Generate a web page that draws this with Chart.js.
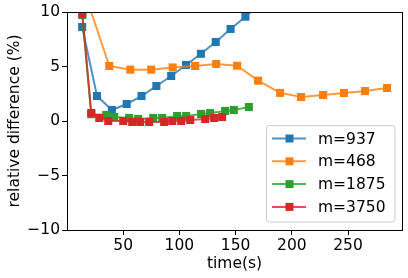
<!DOCTYPE html>
<html>
<head>
<meta charset="utf-8">
<script src="https://cdn.jsdelivr.net/npm/chart.js@4.4.1/dist/chart.umd.min.js"></script>
<style>
  html, body { margin: 0; padding: 0; background: #fff; }
  #wrap { width: 408px; height: 278px; }
</style>
</head>
<body>
<div id="wrap"><canvas id="relChart" width="408" height="278"></canvas></div>
<script>
// series (time in s, relative difference in %)
const seriesNames = ['m=937', 'm=468', 'm=1875', 'm=3750'];

const timeM937 = [13.5, 26.7, 39.9, 53.1, 66.3, 79.5, 92.7, 105.9, 119.1, 132.3, 145.5, 158.7, 171.9];
const diffM937 = [8.62, 2.29, 1.01, 1.56, 2.29, 3.21, 4.13, 5.14, 6.17, 7.25, 8.44, 9.57, 10.8];

const timeM468 = [18.9, 37.6, 56.3, 74.9, 94.0, 114.0, 132.7, 151.3, 170.0, 189.6, 208.2, 227.8, 246.4, 265.1, 284.7];
const diffM468 = [10.8, 5.05, 4.71, 4.71, 4.91, 5.05, 5.23, 5.07, 3.70, 2.58, 2.20, 2.39, 2.57, 2.75, 3.03];

const timeM1875 = [13.6, 21.6, 34.9, 42.0, 55.3, 63.3, 76.7, 84.7, 98.0, 106.0, 119.3, 127.3, 140.7, 148.4, 161.8];
const diffM1875 = [9.72, 0.62, 0.55, 0.37, 0.28, 0.18, 0.28, 0.28, 0.46, 0.46, 0.64, 0.73, 0.92, 1.01, 1.28];

const timeM3750 = [13.6, 21.6, 28.7, 36.7, 50.0, 58.0, 65.1, 73.1, 86.4, 93.6, 101.6, 109.6, 122.9, 130.9, 138.0];
const diffM3750 = [9.84, 0.73, 0.28, 0.0, 0.0, -0.09, -0.09, -0.09, -0.09, 0.0, 0.0, 0.09, 0.18, 0.28, 0.37];

const xTicks = [50, 100, 150, 200, 250];
const yTicks = [-10, -5, 0, 5, 10];

const colors = ['#1f77b4', '#ff7f0e', '#2ca02c', '#d62728'];
const lineColors = ['rgba(31,119,180,0.8)', 'rgba(255,127,14,0.8)', 'rgba(44,160,44,0.8)', 'rgba(214,39,40,0.8)'];

const pts = (xs, ys) => xs.map((x, i) => ({ x: x, y: ys[i] }));

Chart.defaults.font.family = '"DejaVu Sans", sans-serif';
Chart.defaults.font.size = 15.5;
Chart.defaults.color = '#000';

function makeSet(i, xs, ys) {
    return {
        label: seriesNames[i],
        data: pts(xs, ys),
        borderColor: lineColors[i],
        backgroundColor: colors[i],
        borderWidth: 2,
        pointStyle: 'rect',
        pointRadius: 5.7,
        pointBorderWidth: 0,
        pointBackgroundColor: colors[i],
        pointHoverRadius: 5.7,
        tension: 0,
        clip: 0,
        order: 3 - i
    };
}

// frame (all four spines) and legend inside plot
const framePlugin = {
    id: 'frame',
    afterDraw(chart) {
        const ctx = chart.ctx;
        const a = chart.chartArea;
        ctx.save();
        ctx.strokeStyle = '#000';
        ctx.lineWidth = 1;
        ctx.strokeRect(Math.round(a.left) + 0.5, Math.round(a.top) + 0.5,
            Math.round(a.right - a.left), Math.round(a.bottom - a.top));

        // legend box
        const x0 = a.right - 136, y0 = a.bottom - 105, w = 128.5, h = 96.5;
        ctx.beginPath();
        ctx.roundRect(x0 + 0.5, y0 + 0.5, w, h, 3);
        ctx.fillStyle = 'rgba(255,255,255,0.8)';
        ctx.fill();
        ctx.strokeStyle = '#cccccc';
        ctx.stroke();

        ctx.font = '15.5px "DejaVu Sans", sans-serif';
        ctx.textBaseline = 'middle';
        ctx.textAlign = 'left';
        chart.data.datasets.forEach((ds, i) => {
            const yy = y0 + 13.5 + i * 22.8;
            ctx.strokeStyle = ds.borderColor;
            ctx.lineWidth = 2;
            ctx.beginPath();
            ctx.moveTo(x0 + 6, yy);
            ctx.lineTo(x0 + 40, yy);
            ctx.stroke();
            ctx.fillStyle = ds.pointBackgroundColor;
            ctx.fillRect(x0 + 23.5 - 4, yy - 4, 8, 8);
            ctx.fillStyle = '#000';
            ctx.fillText(ds.label, x0 + 52, yy + 1);
        });
        ctx.restore();
    }
};

new Chart(document.getElementById('relChart').getContext('2d'), {
    type: 'line',
    data: {
        datasets: [
            makeSet(0, timeM937, diffM937),
            makeSet(1, timeM468, diffM468),
            makeSet(2, timeM1875, diffM1875),
            makeSet(3, timeM3750, diffM3750)
        ]
    },
    options: {
        responsive: false,
        animation: false,
        devicePixelRatio: 1,
        layout: { padding: { top: 12, right: 6, left: 0, bottom: 0 } },
        plugins: { legend: { display: false }, tooltip: { enabled: false } },
        scales: {
            x: {
                type: 'linear',
                min: 0,
                max: 298,
                afterBuildTicks: s => { s.ticks = xTicks.map(v => ({ value: v })); },
                afterFit: s => { s.height = 48; },
                grid: { drawOnChartArea: false, drawTicks: true, tickLength: 5, color: '#000' },
                border: { display: false },
                ticks: { padding: 2, maxRotation: 0, autoSkip: false },
                title: { display: true, text: 'time(s)', padding: { top: 0, bottom: 5 } }
            },
            y: {
                min: -10,
                max: 10,
                afterBuildTicks: s => { s.ticks = yTicks.map(v => ({ value: v })); },
                afterFit: s => { s.width = 67; },
                grid: { drawOnChartArea: false, drawTicks: true, tickLength: 5, color: '#000' },
                border: { display: false },
                ticks: {
                    padding: 2,
                    callback: v => v < 0 ? '\u2212' + Math.abs(v) : String(v)
                },
                title: { display: true, text: 'relative difference (%)', padding: { top: 6, bottom: 0 } }
            }
        }
    },
    plugins: [framePlugin]
});
</script>
</body>
</html>
